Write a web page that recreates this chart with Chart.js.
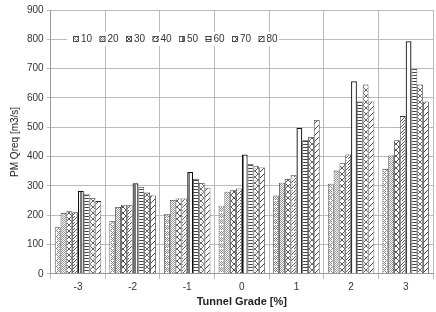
<!DOCTYPE html>
<html>
<head>
<meta charset="utf-8">
<script src="https://cdn.jsdelivr.net/npm/chart.js@4.4.0/dist/chart.umd.min.js"></script>
<style>
  html, body { margin: 0; padding: 0; background: #fff; }
  #wrap { width: 436px; height: 312px; }
</style>
</head>
<body>
<div id="wrap"><canvas id="chart" width="436" height="312"></canvas></div>
<script>
// tunnel grade categories
let grades = ['-3', '-2', '-1', '0', '1', '2', '3'];
let seriesNames = ['10', '20', '30', '40', '50', '60', '70', '80'];
let yTicks = [0, 100, 200, 300, 400, 500, 600, 700, 800, 900];

// PM Qreq values, one array per series
let s10 = [159, 179, 203, 232, 267, 307, 358];
let s20 = [208, 228, 252, 280, 311, 352, 404];
let s30 = [213, 236, 257, 285, 324, 377, 456];
let s40 = [210, 234, 257, 291, 336, 407, 538];
let s50 = [283, 309, 347, 407, 498, 657, 793];
let s60 = [273, 296, 324, 375, 456, 588, 699];
let s70 = [259, 277, 310, 367, 467, 646, 646];
let s80 = [248, 267, 294, 363, 525, 588, 588];
let allSeries = [s10, s20, s30, s40, s50, s60, s70, s80];

// hatch patterns, one per series
function makePattern(kind) {
    let c = document.createElement('canvas');
    c.width = 6; c.height = 6;
    let g = c.getContext('2d');
    g.fillStyle = '#fff';
    g.fillRect(0, 0, 6, 6);
    g.strokeStyle = '#555';
    g.fillStyle = '#888';
    g.lineWidth = 1;
    switch (kind) {
        case 0: // sparse dots
            for (let i = 0; i < 6; i += 2) for (let j = 0; j < 6; j += 2) if ((i + j) % 4 == 0) g.fillRect(i, j, 1, 1);
            for (let i = 1; i < 6; i += 2) for (let j = 1; j < 6; j += 2) g.fillRect(i, j, 1, 1);
            break;
        case 1: // dense grey dots
            g.fillStyle = '#999';
            for (let i = 0; i < 6; i++) for (let j = 0; j < 6; j++) if ((i + j) % 2 == 0) g.fillRect(i, j, 1, 1);
            break;
        case 2: // zigzag cross
            g.beginPath();
            g.moveTo(0, 0); g.lineTo(6, 6);
            g.moveTo(6, 0); g.lineTo(0, 6);
            g.stroke();
            break;
        case 3: // small diagonal weave
            g.beginPath();
            g.moveTo(0, 6); g.lineTo(6, 0);
            g.moveTo(0, 3); g.lineTo(3, 0);
            g.stroke();
            g.fillStyle = '#aaa';
            g.fillRect(4, 4, 1, 1);
            break;
        case 4: // vertical stripes
            g.fillStyle = '#777';
            g.fillRect(2, 0, 2, 6);
            break;
        case 5: // horizontal lines
            g.fillStyle = '#444';
            g.fillRect(0, 0, 6, 1);
            g.fillRect(0, 3, 6, 1);
            break;
        case 6: // open crosshatch
            g.strokeStyle = '#666';
            g.beginPath();
            g.moveTo(0, 0); g.lineTo(6, 6);
            g.moveTo(6, 0); g.lineTo(0, 6);
            g.stroke();
            g.fillStyle = '#bbb';
            g.fillRect(3, 0, 1, 1);
            break;
        case 7: // forward diagonal
            g.strokeStyle = '#444';
            g.beginPath();
            g.moveTo(0, 6); g.lineTo(6, 0);
            g.moveTo(-1, 1); g.lineTo(1, -1);
            g.moveTo(5, 7); g.lineTo(7, 5);
            g.stroke();
            break;
    }
    let ctx = document.getElementById('chart').getContext('2d');
    return ctx.createPattern(c, 'repeat');
}

let patterns = seriesNames.map(function (n, i) { return makePattern(i); });

let datasets = seriesNames.map(function (name, i) {
    return {
        label: name,
        data: allSeries[i],
        backgroundColor: patterns[i],
        borderColor: i == 4 ? '#111' : '#333',
        borderWidth: i == 4 ? 1.2 : 0.8,
        categoryPercentage: 0.85,
        barPercentage: 1.0
    };
});

// legend drawn inside the plot, on a white box over the grid
let innerLegend = {
    id: 'innerLegend',
    afterDatasetsDraw: function (chart) {
        let c = chart.ctx;
        let y = 39;
        c.save();
        c.fillStyle = '#fff';
        c.fillRect(67, y - 7, 212, 14);
        c.font = '10px "Liberation Sans", Arial, sans-serif';
        c.textBaseline = 'middle';
        let x = 73;
        seriesNames.forEach(function (name, i) {
            c.fillStyle = patterns[i];
            c.fillRect(x, y - 3, 6, 6);
            c.strokeStyle = '#333';
            c.lineWidth = 0.8;
            c.strokeRect(x + 0.5, y - 2.5, 5, 5);
            c.fillStyle = '#333';
            c.fillText(name, x + 8, y + 0.5);
            x += 26.5;
        });
        c.restore();
    }
};

let chart = new Chart(document.getElementById('chart'), {
    type: 'bar',
    data: { labels: grades, datasets: datasets },
    options: {
        responsive: false,
        animation: false,
        layout: { padding: { left: 9, right: 3, top: 10, bottom: 3 } },
        plugins: {
            legend: { display: false },
            tooltip: { enabled: false }
        },
        scales: {
            x: {
                grid: { color: '#bbb', lineWidth: 1, offset: true, tickLength: 5, drawTicks: true },
                border: { color: '#999' },
                ticks: { color: '#333', font: { size: 10, family: '"Liberation Sans", Arial, sans-serif' }, padding: 2 },
                title: {
                    display: true,
                    text: 'Tunnel Grade [%]',
                    color: '#222',
                    font: { size: 11, weight: 'bold', family: '"Liberation Sans", Arial, sans-serif' },
                    padding: { top: 1, bottom: 0 }
                }
            },
            y: {
                min: 0,
                max: 900,
                afterBuildTicks: function (axis) {
                    axis.ticks = yTicks.map(function (v) { return { value: v }; });
                },
                grid: { color: '#bbb', lineWidth: 1, tickLength: 4 },
                border: { color: '#999' },
                ticks: { color: '#333', font: { size: 10, family: '"Liberation Sans", Arial, sans-serif' }, padding: 3 },
                title: {
                    display: true,
                    text: 'PM Qreq [m3/s]',
                    color: '#222',
                    font: { size: 10, family: '"Liberation Sans", Arial, sans-serif' },
                    padding: { top: 0, bottom: 3 }
                }
            }
        }
    },
    plugins: [innerLegend]
});
</script>
</body>
</html>
